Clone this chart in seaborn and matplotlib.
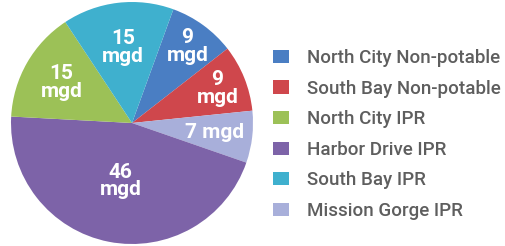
import matplotlib
matplotlib.use("Agg")
import matplotlib.pyplot as plt
import matplotlib.patches as mpatches
import numpy as np
import seaborn as sns

# Data (clockwise slice order as drawn)
slice_names = ["North City Non-potable", "South Bay Non-potable", "Mission Gorge IPR",
               "Harbor Drive IPR", "North City IPR", "South Bay IPR"]
slice_values = [9, 9, 7, 46, 15, 15]
slice_labels = ["9\nmgd", "9\nmgd", "7 mgd", "46\nmgd", "15\nmgd", "15\nmgd"]
legend_order = ["North City Non-potable", "South Bay Non-potable", "North City IPR",
                "Harbor Drive IPR", "South Bay IPR", "Mission Gorge IPR"]

color_map = {
    "North City Non-potable": "#4a7ec3",
    "South Bay Non-potable": "#cf474c",
    "North City IPR": "#9cc157",
    "Harbor Drive IPR": "#7d63a8",
    "South Bay IPR": "#3fb0ce",
    "Mission Gorge IPR": "#a8afda",
}
label_dist = [0.78, 0.76, 0.69, 0.49, 0.67, 0.63]

sns.set_theme(style="white")
plt.rcParams["font.family"] = ["Roboto", "DejaVu Sans"]

W, H = 506, 246
fig = plt.figure(figsize=(W / 100, H / 100), dpi=100)
cx, cy, r = 132, 123, 121
ax = fig.add_axes([(cx - r) / W, (H - cy - r) / H, 2 * r / W, 2 * r / H])

palette = sns.color_palette([color_map[n] for n in slice_names])
wedges, _ = ax.pie(slice_values, colors=palette, startangle=70, counterclock=False,
                   radius=1.0, wedgeprops=dict(linewidth=0))
ax.set_xlim(-1, 1)
ax.set_ylim(-1, 1)
ax.set_aspect("equal")
ax.axis("off")

for w, lab, d in zip(wedges, slice_labels, label_dist):
    ang = np.deg2rad((w.theta1 + w.theta2) / 2)
    ax.text(d * np.cos(ang), d * np.sin(ang), lab, ha="center", va="center",
            color="white", fontsize=15, fontweight="bold", linespacing=0.9)

handles = [mpatches.Patch(facecolor=color_map[n], edgecolor="none") for n in legend_order]
leg = fig.legend(handles, legend_order, loc="upper left",
                 bbox_to_anchor=(273 / W, 1 - 49 / H), frameon=False,
                 fontsize=13.5, handlelength=0.85, handleheight=0.7,
                 handletextpad=0.95, labelspacing=0.67, borderpad=0, borderaxespad=0)
for t in leg.get_texts():
    t.set_color("#5e5e5e")
    t.set_fontweight("medium")

fig.savefig("out.png", dpi=100, facecolor="white")
